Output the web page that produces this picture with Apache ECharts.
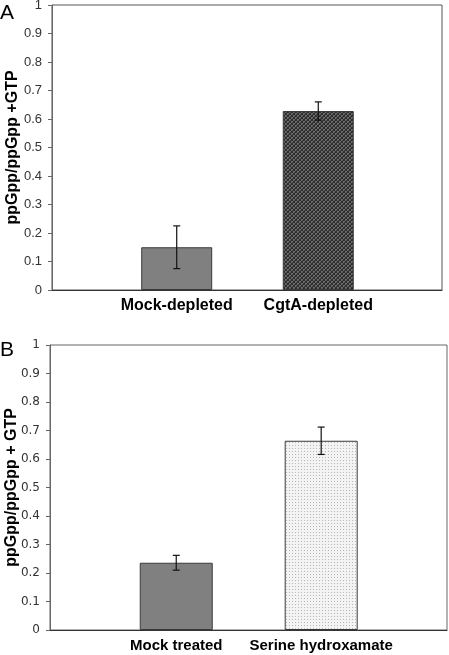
<!DOCTYPE html>
<html><head><meta charset="utf-8">
<script src="https://cdn.jsdelivr.net/npm/echarts@6/dist/echarts.min.js"></script>
<style>html,body{margin:0;padding:0;background:#fff}#c{width:449px;height:655px}</style>
</head><body><div id="c"></div>
<script>
const catsA = ['Mock-depleted', 'CgtA-depleted'];
const valsA = [0.15, 0.628];
const errA = [0.075, 0.032];
const catsB = ['Mock treated', 'Serine hydroxamate'];
const valsB = [0.236, 0.664];
const errB = [0.026, 0.048];
const yTicks = ['0','0.1','0.2','0.3','0.4','0.5','0.6','0.7','0.8','0.9','1'];

function makePattern(kind) {
  const c = document.createElement('canvas');
  if (kind === 'hatch') {
    c.width = 4; c.height = 4;
    const g = c.getContext('2d');
    g.fillStyle = '#6e6e6e'; g.fillRect(0,0,4,4);
    g.fillStyle = '#2c2c2c';
    for (let i = 0; i < 4; i++) { g.fillRect(i, i, 1, 1); g.fillRect(3 - i, i, 1, 1); }
    g.fillStyle = '#4a4a4a';
    g.fillRect(2, 0, 1, 1); g.fillRect(0, 2, 1, 1);
  } else {
    c.width = 3; c.height = 3;
    const g = c.getContext('2d');
    g.fillStyle = '#f3f3f3'; g.fillRect(0,0,3,3);
    g.fillStyle = '#b8b8b8'; g.fillRect(1,1,1,1);
  }
  return { image: c, repeat: 'repeat' };
}

const barColorsA = ['#808080', makePattern('hatch')];
const barColorsB = ['#808080', makePattern('dots')];

function errRender(params, api) {
  const x = api.value(0);
  const lo = api.coord([x, api.value(1)]);
  const hi = api.coord([x, api.value(2)]);
  const w = 3.5;
  const style = { stroke: '#111', lineWidth: 1.2 };
  return { type: 'group', children: [
    { type: 'line', shape: { x1: lo[0], y1: lo[1], x2: hi[0], y2: hi[1] }, style },
    { type: 'line', shape: { x1: lo[0]-w, y1: lo[1], x2: lo[0]+w, y2: lo[1] }, style },
    { type: 'line', shape: { x1: hi[0]-w, y1: hi[1], x2: hi[0]+w, y2: hi[1] }, style }
  ]};
}

function yAxisCfg(gridIndex, name, font, fsize, margin, gap) {
  return {
    type: 'value', gridIndex, min: 0, max: 1, interval: 0.1, position: 'left',
    name, nameLocation: 'middle', nameGap: gap, nameRotate: 90, nameMoveOverlap: false,
    nameTextStyle: { fontFamily: 'Liberation Sans, Arial', fontWeight: 'bold', fontSize: 16, color: '#000' },
    axisLine: { show: true, onZero: false, lineStyle: { color: '#666', width: 1 } },
    axisTick: { show: true, length: 4, lineStyle: { color: '#666' } },
    axisLabel: { margin, fontFamily: font, fontSize: fsize, color: '#333',
      formatter: v => yTicks[Math.round(v * 10)] },
    splitLine: { show: false }
  };
}

function xAxisCfg(gridIndex, cats, min, max, fsize) {
  return {
    type: 'value', gridIndex, min, max, position: 'bottom',
    axisLine: { show: true, onZero: false, lineStyle: { color: '#333', width: 1 } },
    axisTick: { show: false },
    splitLine: { show: false },
    axisLabel: { customValues: [0, 1], margin: 8, fontFamily: 'Liberation Sans, Arial',
      fontWeight: 'bold', fontSize: fsize, color: '#000',
      formatter: v => cats[Math.round(v)] || '' }
  };
}

const chart = echarts.init(document.getElementById('c'), null, { renderer: 'canvas' });
chart.setOption({
  animation: false,
  backgroundColor: '#fff',
  title: [
    { text: 'A', left: 0, top: 3, textStyle: { fontFamily: 'Liberation Sans, Arial', fontWeight: 'normal', fontSize: 21, color: '#000' }, padding: 0 },
    { text: 'B', left: 0, top: 340, textStyle: { fontFamily: 'Liberation Sans, Arial', fontWeight: 'normal', fontSize: 21, color: '#000' }, padding: 0 }
  ],
  grid: [
    { left: 52, right: 7, top: 5, bottom: 365, show: true, borderColor: '#555', borderWidth: 1, containLabel: false, outerBoundsMode: 'none' },
    { left: 50, right: 2, top: 345, bottom: 25, show: true, borderColor: '#666', borderWidth: 1, containLabel: false, outerBoundsMode: 'none' }
  ],
  xAxis: [
    xAxisCfg(0, catsA, -0.881, 1.874, 16),
    xAxisCfg(1, catsB, -0.871, 1.868, 15)
  ],
  yAxis: [
    yAxisCfg(0, 'ppGpp/ppGpp +GTP', 'Liberation Sans, Arial', 13, 10, 31),
    yAxisCfg(1, 'ppGpp/ppGpp + GTP', 'DejaVu Sans', 12, 10, 30)
  ],
  series: [
    { type: 'bar', xAxisIndex: 0, yAxisIndex: 0, barWidth: 71,
      data: valsA.map((v, i) => ({ value: [i, v], itemStyle: { color: barColorsA[i] } })),
      itemStyle: { borderColor: '#3a3a3a', borderWidth: 1 } },
    { type: 'custom', xAxisIndex: 0, yAxisIndex: 0, renderItem: errRender, z: 5,
      data: valsA.map((v, i) => [i, v - errA[i], v + errA[i]]) },
    { type: 'bar', xAxisIndex: 1, yAxisIndex: 1, barWidth: 73,
      data: valsB.map((v, i) => ({ value: [i, v], itemStyle: { color: barColorsB[i] } })),
      itemStyle: { borderColor: '#3a3a3a', borderWidth: 1 } },
    { type: 'custom', xAxisIndex: 1, yAxisIndex: 1, renderItem: errRender, z: 5,
      data: valsB.map((v, i) => [i, v - errB[i], v + errB[i]]) }
  ]
});
</script></body></html>
